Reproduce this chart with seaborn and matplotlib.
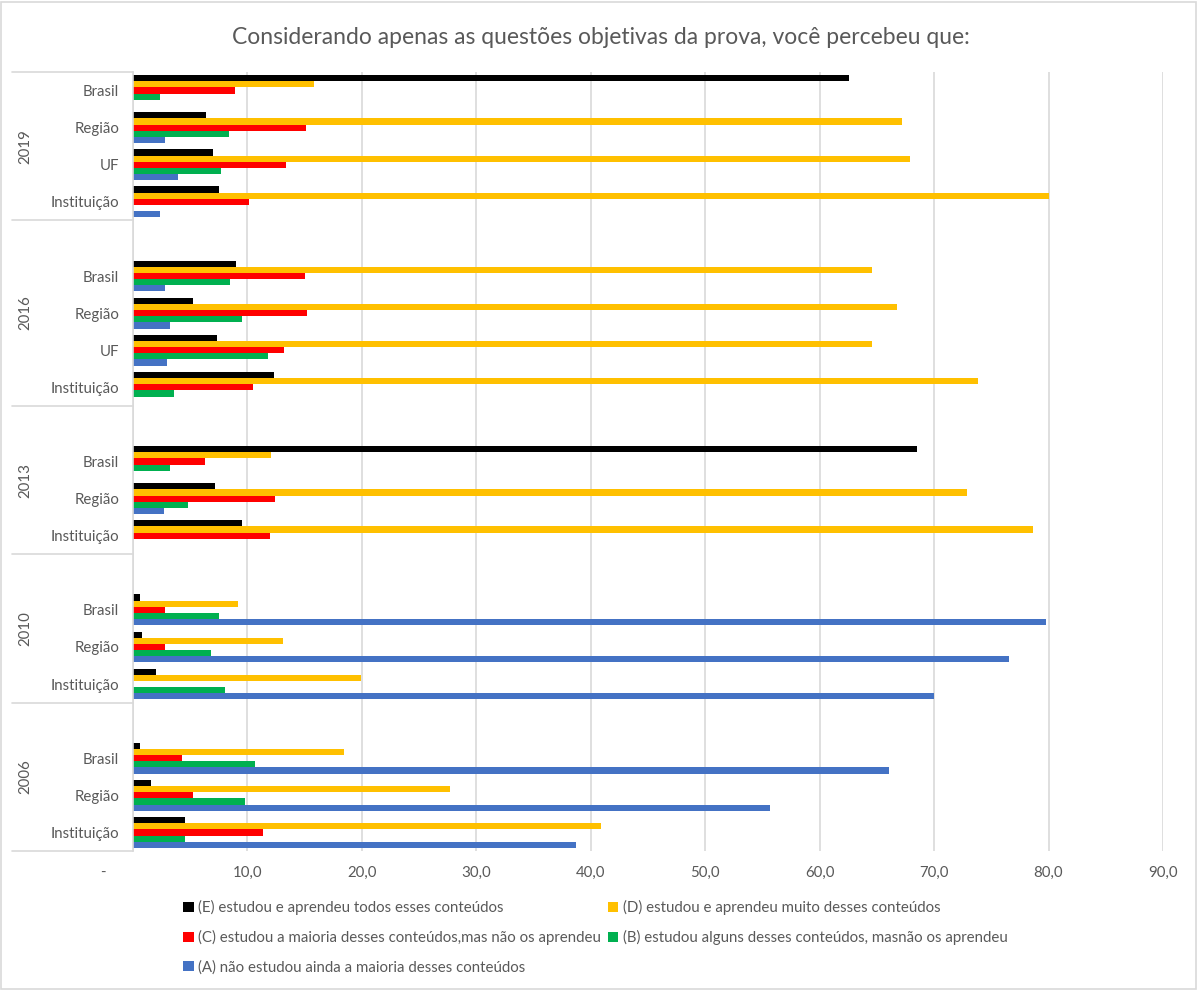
import numpy as np
import pandas as pd
import matplotlib
matplotlib.use("Agg")
import matplotlib.pyplot as plt
import matplotlib.transforms as mtransforms
from matplotlib.lines import Line2D
from matplotlib.patches import Rectangle
import seaborn as sns

# ---------------- data ----------------
nan = np.nan
title = "Considerando apenas as questões objetivas da prova, você percebeu que:"

slot_year = ["2019"] * 4 + ["2016"] * 5 + ["2013"] * 4 + ["2010"] * 4 + ["2006"] * 4
slot_label = ["Brasil", "Região", "UF", "Instituição",
              "", "Brasil", "Região", "UF", "Instituição",
              "", "Brasil", "Região", "Instituição",
              "", "Brasil", "Região", "Instituição",
              "", "Brasil", "Região", "Instituição"]

series_names = [
    "(E) estudou e aprendeu todos esses conteúdos",
    "(D) estudou e aprendeu muito desses conteúdos",
    "(C) estudou a maioria desses conteúdos,mas não os aprendeu",
    "(B) estudou alguns desses conteúdos, masnão os aprendeu",
    "(A) não estudou ainda a maioria desses conteúdos",
]
E_vals = [62.6, 6.4, 7.0, 7.5, nan, 9.0, 5.2, 7.3, 12.3, nan, 68.5, 7.2, 9.5, nan, 0.6, 0.8, 2.0, nan, 0.6, 1.6, 4.5]
D_vals = [15.8, 67.2, 67.9, 80.0, nan, 64.6, 66.8, 64.6, 73.8, nan, 12.1, 72.9, 78.6, nan, 9.2, 13.1, 19.9, nan, 18.4, 27.7, 40.9]
C_vals = [8.9, 15.1, 13.4, 10.1, nan, 15.0, 15.2, 13.2, 10.5, nan, 6.3, 12.4, 12.0, nan, 2.8, 2.8, 0.0, nan, 4.3, 5.2, 11.4]
B_vals = [2.4, 8.4, 7.7, 0.0, nan, 8.5, 9.5, 11.8, 3.6, nan, 3.2, 4.8, 0.0, nan, 7.5, 6.8, 8.0, nan, 10.7, 9.8, 4.5]
A_vals = [0.0, 2.8, 3.9, 2.4, nan, 2.8, 3.2, 3.0, 0.0, nan, 0.0, 2.7, 0.0, nan, 79.8, 76.5, 70.0, nan, 66.1, 55.7, 38.7]
series_values = [E_vals, D_vals, C_vals, B_vals, A_vals]
colors = ["#000000", "#FFC000", "#FF0000", "#00B050", "#4472C4"]

x_ticks = [0, 10, 20, 30, 40, 50, 60, 70, 80, 90]
x_ticklabels = ["-", "10,0", "20,0", "30,0", "40,0", "50,0", "60,0", "70,0", "80,0", "90,0"]

# ---------------- build table ----------------
slot_ids = [f"{y}|{l}|{i}" for i, (y, l) in enumerate(zip(slot_year, slot_label))]
rows = []
for name, vals in zip(series_names, series_values):
    for sid, v in zip(slot_ids, vals):
        rows.append({"slot": sid, "serie": name, "valor": v})
df = pd.DataFrame(rows)
df_plot = df.dropna()

# ---------------- figure ----------------
sns.set_theme(style="white")
plt.rcParams["font.family"] = ["Lato", "DejaVu Sans"]
TXT = "#595959"
GRID = "#D9D9D9"
FS = 10.8

W, H = 1198, 990
fig = plt.figure(figsize=(W / 100, H / 100), dpi=100)
ax = fig.add_axes([133 / W, 1 - 851 / H, (1163 - 133) / W, (851 - 72) / H])

sns.barplot(data=df_plot, y="slot", x="valor", hue="serie", order=slot_ids,
            hue_order=series_names, palette=colors, orient="h", width=0.83,
            saturation=1, errorbar=None, linewidth=0, ax=ax)

ax.set_xlim(0, 90)
ax.set_ylim(len(slot_ids) - 0.5, -0.5)
ax.set_xticks(x_ticks)
ax.set_xticklabels(x_ticklabels, fontsize=FS, color=TXT)
ax.set_yticks(range(len(slot_ids)))
ax.set_yticklabels(slot_label, fontsize=FS, color=TXT)
ax.tick_params(axis="y", length=0, pad=10)
ax.tick_params(axis="x", length=0, pad=11)
ax.set_xlabel("")
ax.set_ylabel("")
ax.xaxis.grid(True, color=GRID, linewidth=1.2)
ax.set_axisbelow(True)
for s in ["top", "right", "bottom"]:
    ax.spines[s].set_visible(False)
ax.spines["left"].set_color(GRID)
ax.spines["left"].set_linewidth(1.2)

# shift the "-" zero label to the left as in the original
lbl0 = ax.get_xticklabels()[0]
lbl0.set_transform(lbl0.get_transform() + mtransforms.ScaledTranslation(-30 / 100, 0, fig.dpi_scale_trans))

# year group labels and separators
blend = mtransforms.blended_transform_factory(fig.transFigure, ax.transData)
years_order = ["2019", "2016", "2013", "2010", "2006"]
bounds = [-0.5]
for yr in years_order:
    idx = [i for i, y in enumerate(slot_year) if y == yr]
    center = (min(idx) + max(idx)) / 2
    fig.text(25 / W, center, yr, rotation=90, ha="center", va="center",
             fontsize=FS, color=TXT, transform=blend)
    bounds.append(max(idx) + 0.5)
for b in bounds:
    fig.add_artist(Line2D([12 / W, 133 / W], [b, b], color=GRID, linewidth=1.2,
                          transform=blend, clip_on=False))

# title
fig.text(601 / W, 1 - 37 / H, title, ha="center", va="center", fontsize=16.5, color=TXT)

# legend (row-wise order E D / C B / A)
handles, labels = ax.get_legend_handles_labels()
ax.get_legend().remove()
order = [0, 2, 4, 1, 3]
fig.legend([handles[i] for i in order], [labels[i] for i in order],
           loc="upper left", bbox_to_anchor=(183 / W, 1 - 900 / H),
           ncol=2, frameon=False, fontsize=FS, labelcolor=TXT,
           handlelength=0.7, handleheight=0.7, handletextpad=0.3,
           labelspacing=1.0, columnspacing=0.45, borderpad=0, borderaxespad=0)

# chart border
fig.add_artist(Rectangle((1 / W, 1 / H), 1 - 3 / W, 1 - 3 / H, transform=fig.transFigure,
                         fill=False, edgecolor=GRID, linewidth=1.2))

fig.savefig("out.png", dpi=100)
